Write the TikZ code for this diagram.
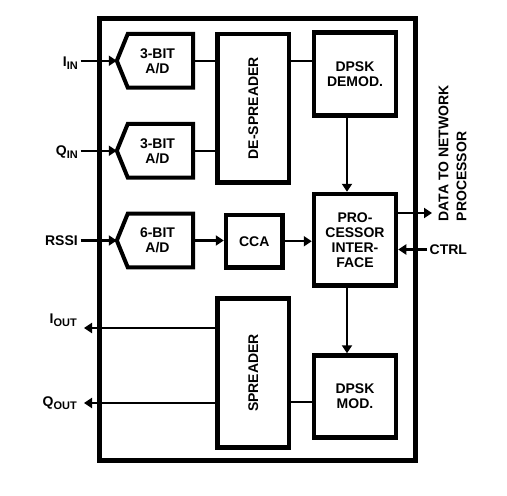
\documentclass[tikz,border=0pt]{standalone}
\usepackage{fontspec}
\usepackage{graphicx}
\setmainfont{Liberation Sans}
\usetikzlibrary{arrows.meta, positioning, calc}
\newcommand\lowsub[1]{\raisebox{-3pt}{\fontsize{11}{12}\selectfont #1}}
\tikzset{
  base/.style={
    rectangle, align=center,
    inner sep=2pt,
    font=\bfseries\fontsize{14}{15}\selectfont
  },
  block/.style={base, draw, line width=4.5pt},
  adc/.style={base, minimum width=71pt, minimum height=53.5pt},
  sigtext/.style={font=\bfseries\fontsize{14}{15}\selectfont, inner sep=2.5pt},
  wire/.style={line width=2.2pt},
}

\begin{document}
\begin{tikzpicture}[x=1pt, y=-1pt]
    \useasboundingbox (0,0) rectangle (507,496);
    \draw[line width=5pt] (99,18) rectangle (415.5,460.5);

    \node[adc] (adI) at (157.5,60.75) {3-BIT\\A/D};
    \node[adc] (adQ) at (157.5,150.75) {3-BIT\\A/D};
    \node[adc] (adRssi) at (157.5,240.5) {6-BIT\\A/D};
    \foreach \n in {adI,adQ,adRssi}
      \draw[line width=4pt] ([xshift=6pt]\n.north west) -- ([xshift=-5pt]\n.west)
        -- ([xshift=6pt]\n.south west) -- (\n.south east) -- (\n.north east) -- cycle;

    \node[block, minimum width=71.5pt, minimum height=148.5pt] (despreader) at (253.25,108.25) {\rotatebox{90}{DE-SPREADER}};
    \node[block, minimum width=82pt, minimum height=83pt] (demod) at (355,74) {DPSK\\DEMOD.};
    \node[block, minimum width=82pt, minimum height=91.5pt] (procif) at (355,239.75) {PRO-\\CESSOR\\INTER-\\FACE};
    \node[block, minimum width=56.5pt, minimum height=52.5pt] (cca) at (254.25,241.25) {CCA};
    \node[block, minimum width=71.5pt, minimum height=149pt] (spreader) at (253.25,373) {\rotatebox{90}{SPREADER}};
    \node[block, minimum width=82pt, minimum height=82pt] (mod) at (355,396.5) {DPSK\\MOD.};

    \node[sigtext, anchor=base east] (iin) at (80.5,66.5) {I\lowsub{IN}};
    \node[sigtext, anchor=base east] (qin) at (80.5,155.5) {Q\lowsub{IN}};
    \node[sigtext, anchor=base east] (rssi) at (80.5,245) {RSSI};
    \node[sigtext, anchor=base east, inner xsep=7pt] (iout) at (84,323.5) {I\lowsub{OUT}};
    \node[sigtext, anchor=base east, inner xsep=7pt] (qout) at (84,406.5) {Q\lowsub{OUT}};
    \node[sigtext, anchor=west] (ctrl) at (427,249.5) {CTRL};
    \node[sigtext, rotate=90, anchor=west, align=left, font=\bfseries\fontsize{14}{18}\selectfont] (datalbl) at (452.5,224) {DATA TO NETWORK\\PROCESSOR};
    \coordinate (dataout) at (432,213);

    \draw[-{Triangle[length=8pt,width=10pt]}, wire] (iin.east |- adI.west) -- ([xshift=-5pt]adI.west);
    \draw[-{Triangle[length=8pt,width=10pt]}, wire] (qin.east |- adQ.west) -- ([xshift=-5pt]adQ.west);
    \draw[-{Triangle[length=8pt,width=10pt]}, wire] (rssi.east |- adRssi.west) -- ([xshift=-5pt]adRssi.west);
    \draw[wire] (adI.east) -- (adI.east -| despreader.west);
    \draw[wire] (adQ.east) -- (adQ.east -| despreader.west);
    \draw[wire] (despreader.east |- adI) -- (adI -| demod.west);
    \draw[-{Triangle[length=8pt,width=10pt]}, wire] ([xshift=-8pt]demod.south) -- ([xshift=-8pt]procif.north);
    \draw[-{Triangle[length=8pt,width=10pt]}, wire] (adRssi.east) -- (adRssi.east -| cca.west);
    \draw[-{Triangle[length=8pt,width=10pt]}, wire] (cca.east) -- (cca.east -| procif.west);
    \draw[-{Triangle[length=8pt,width=10pt]}, wire] (dataout -| procif.east) -- (dataout);
    \draw[-{Triangle[length=8pt,width=10pt]}, wire] (ctrl.west) -- (ctrl.west -| procif.east);
    \draw[-{Triangle[length=8pt,width=10pt]}, wire] ([xshift=-8pt]procif.south) -- ([xshift=-8pt]mod.north);
    \draw[wire] ([yshift=-29pt]spreader.east) -- ([yshift=-29pt]spreader.east -| mod.west);
    \draw[-{Triangle[length=8pt,width=10pt]}, wire] ([yshift=45pt]spreader.west) -- ([yshift=45pt]spreader.west -| iout.east);
    \draw[-{Triangle[length=8pt,width=10pt]}, wire] ([yshift=-30pt]spreader.west) -- ([yshift=-30pt]spreader.west -| qout.east);
  \end{tikzpicture}
\end{document}
